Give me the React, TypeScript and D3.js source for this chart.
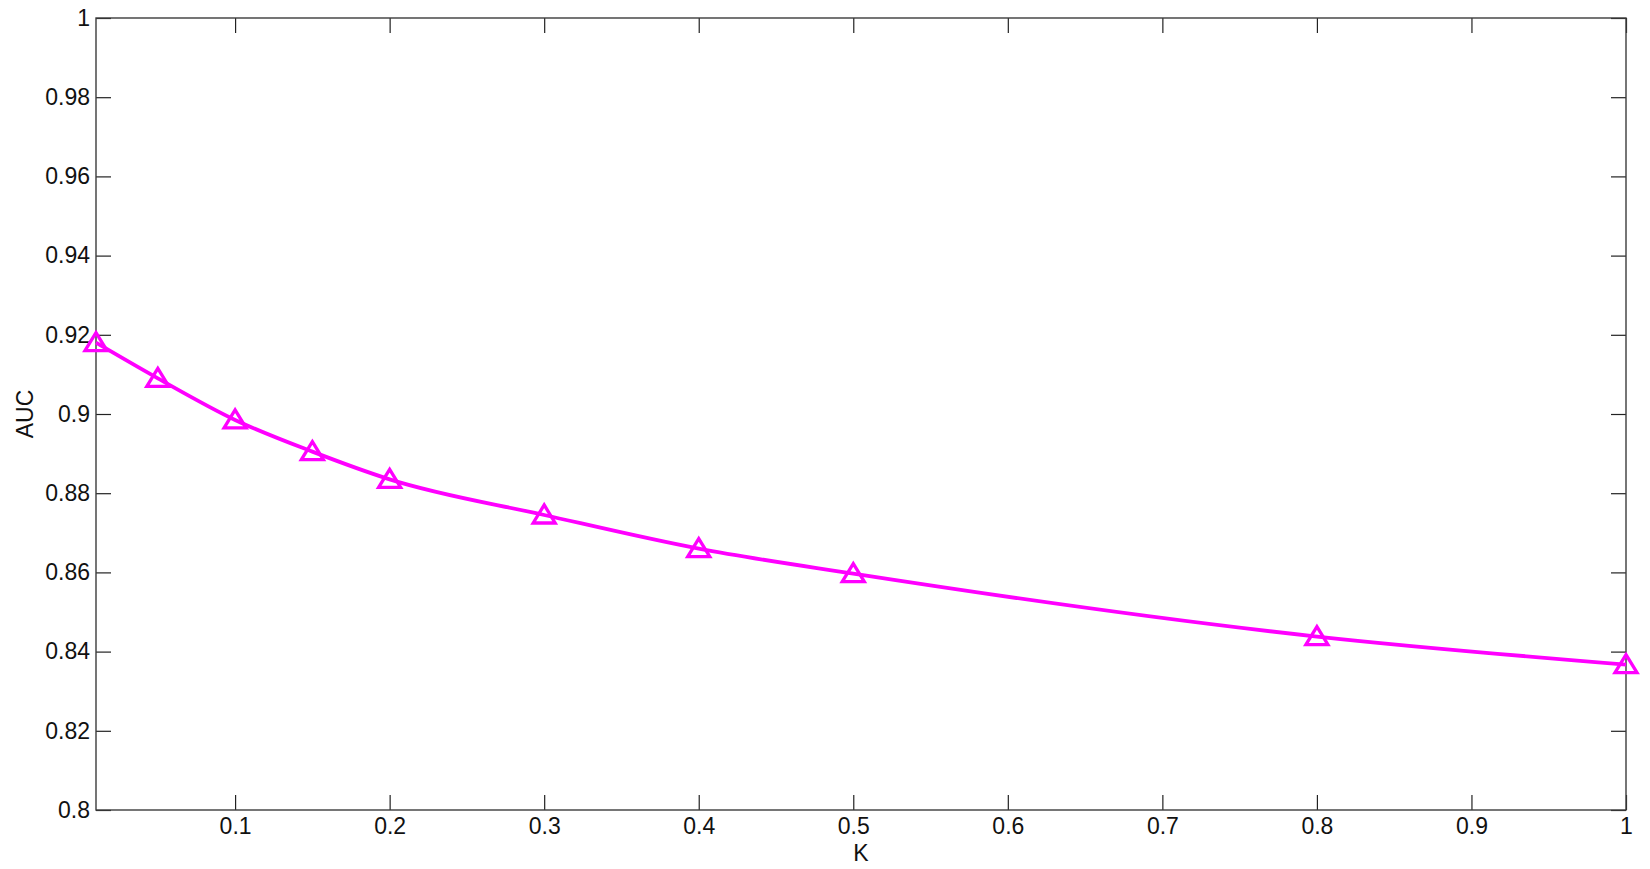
import React, { useEffect, useRef } from "react";
import * as d3 from "d3";

const kValues = [0.01, 0.05, 0.1, 0.15, 0.2, 0.3, 0.4, 0.5, 0.8, 1];
const aucValues = [0.918, 0.909, 0.8985, 0.8905, 0.8835, 0.8745, 0.866, 0.8597, 0.8438, 0.8367];

const xTicks = [0.1, 0.2, 0.3, 0.4, 0.5, 0.6, 0.7, 0.8, 0.9, 1];
const xTickLabels = ["0.1", "0.2", "0.3", "0.4", "0.5", "0.6", "0.7", "0.8", "0.9", "1"];
const yTicks = [0.8, 0.82, 0.84, 0.86, 0.88, 0.9, 0.92, 0.94, 0.96, 0.98, 1];
const yTickLabels = ["0.8", "0.82", "0.84", "0.86", "0.88", "0.9", "0.92", "0.94", "0.96", "0.98", "1"];

const App = () => {
  const svgRef = useRef<SVGSVGElement>(null);

  useEffect(() => {
    const W = 1650;
    const H = 869;
    const margin = { top: 18, right: 24, bottom: 59, left: 96 };
    const width = W - margin.left - margin.right;
    const height = H - margin.top - margin.bottom;

    const root = d3.select(svgRef.current);
    root.selectAll("*").remove();
    root.attr("width", W).attr("height", H);
    root.append("rect").attr("width", W).attr("height", H).attr("fill", "#fff");

    const svg = root.append("g").attr("transform", `translate(${margin.left},${margin.top})`);

    const x = d3.scaleLinear().domain([0.01, 1]).range([0, width]);
    const y = d3.scaleLinear().domain([0.8, 1]).range([height, 0]);

    const font = "Arial, 'Liberation Sans', sans-serif";
    const fontSize = "23px";
    const tickLen = 15;
    const axisColor = "#3c3c3c";

    // inward ticks on all four sides
    const addAxis = (axis: any, tr: string) => {
      const g = svg.append("g").attr("transform", tr).call(axis);
      g.select(".domain").remove();
      g.selectAll("line").attr("stroke", "#222").attr("stroke-width", 1.2);
      g.selectAll("text")
        .style("font-family", font)
        .style("font-size", fontSize)
        .attr("fill", "#111");
      return g;
    };

    addAxis(
      d3
        .axisBottom(x)
        .tickValues(xTicks)
        .tickSizeInner(-tickLen)
        .tickSizeOuter(0)
        .tickPadding(8)
        .tickFormat((d, i) => xTickLabels[i]),
      `translate(0,${height})`
    );
    addAxis(
      d3.axisTop(x).tickValues(xTicks).tickSizeInner(-tickLen).tickSizeOuter(0).tickFormat(() => ""),
      "translate(0,0)"
    );
    addAxis(
      d3
        .axisLeft(y)
        .tickValues(yTicks)
        .tickSizeInner(-tickLen)
        .tickSizeOuter(0)
        .tickPadding(6)
        .tickFormat((d, i) => yTickLabels[i]),
      "translate(0,0)"
    );
    addAxis(
      d3.axisRight(y).tickValues(yTicks).tickSizeInner(-tickLen).tickSizeOuter(0).tickFormat(() => ""),
      `translate(${width},0)`
    );

    svg
      .append("rect")
      .attr("width", width)
      .attr("height", height)
      .attr("fill", "none")
      .attr("stroke", axisColor)
      .attr("stroke-width", 1.4);

    const data = kValues.map((k, i) => [k, aucValues[i]] as [number, number]);

    const line = d3
      .line<[number, number]>()
      .x((d) => x(d[0]))
      .y((d) => y(d[1]))
      .curve(d3.curveMonotoneX);

    svg
      .append("path")
      .datum(data)
      .attr("d", line)
      .attr("fill", "none")
      .attr("stroke", "#ff00ff")
      .attr("stroke-width", 3.8);

    const tri = "M0,-10L11,8L-11,8Z";
    svg
      .selectAll(".marker")
      .data(data)
      .enter()
      .append("path")
      .attr("class", "marker")
      .attr("d", tri)
      .attr("transform", (d) => `translate(${x(d[0])},${y(d[1])})`)
      .attr("fill", "none")
      .attr("stroke", "#ff00ff")
      .attr("stroke-width", 3.3);

    svg
      .append("text")
      .attr("x", width / 2)
      .attr("y", height + 51)
      .attr("text-anchor", "middle")
      .style("font-family", font)
      .style("font-size", fontSize)
      .attr("fill", "#111")
      .text("K");

    svg
      .append("text")
      .attr("transform", `translate(${-63},${height / 2}) rotate(-90)`)
      .attr("text-anchor", "middle")
      .style("font-family", font)
      .style("font-size", fontSize)
      .attr("fill", "#111")
      .text("AUC");
  }, []);

  return <svg ref={svgRef} style={{ position: "absolute", left: 0, top: 0, display: "block" }}></svg>;
};

export default App;
